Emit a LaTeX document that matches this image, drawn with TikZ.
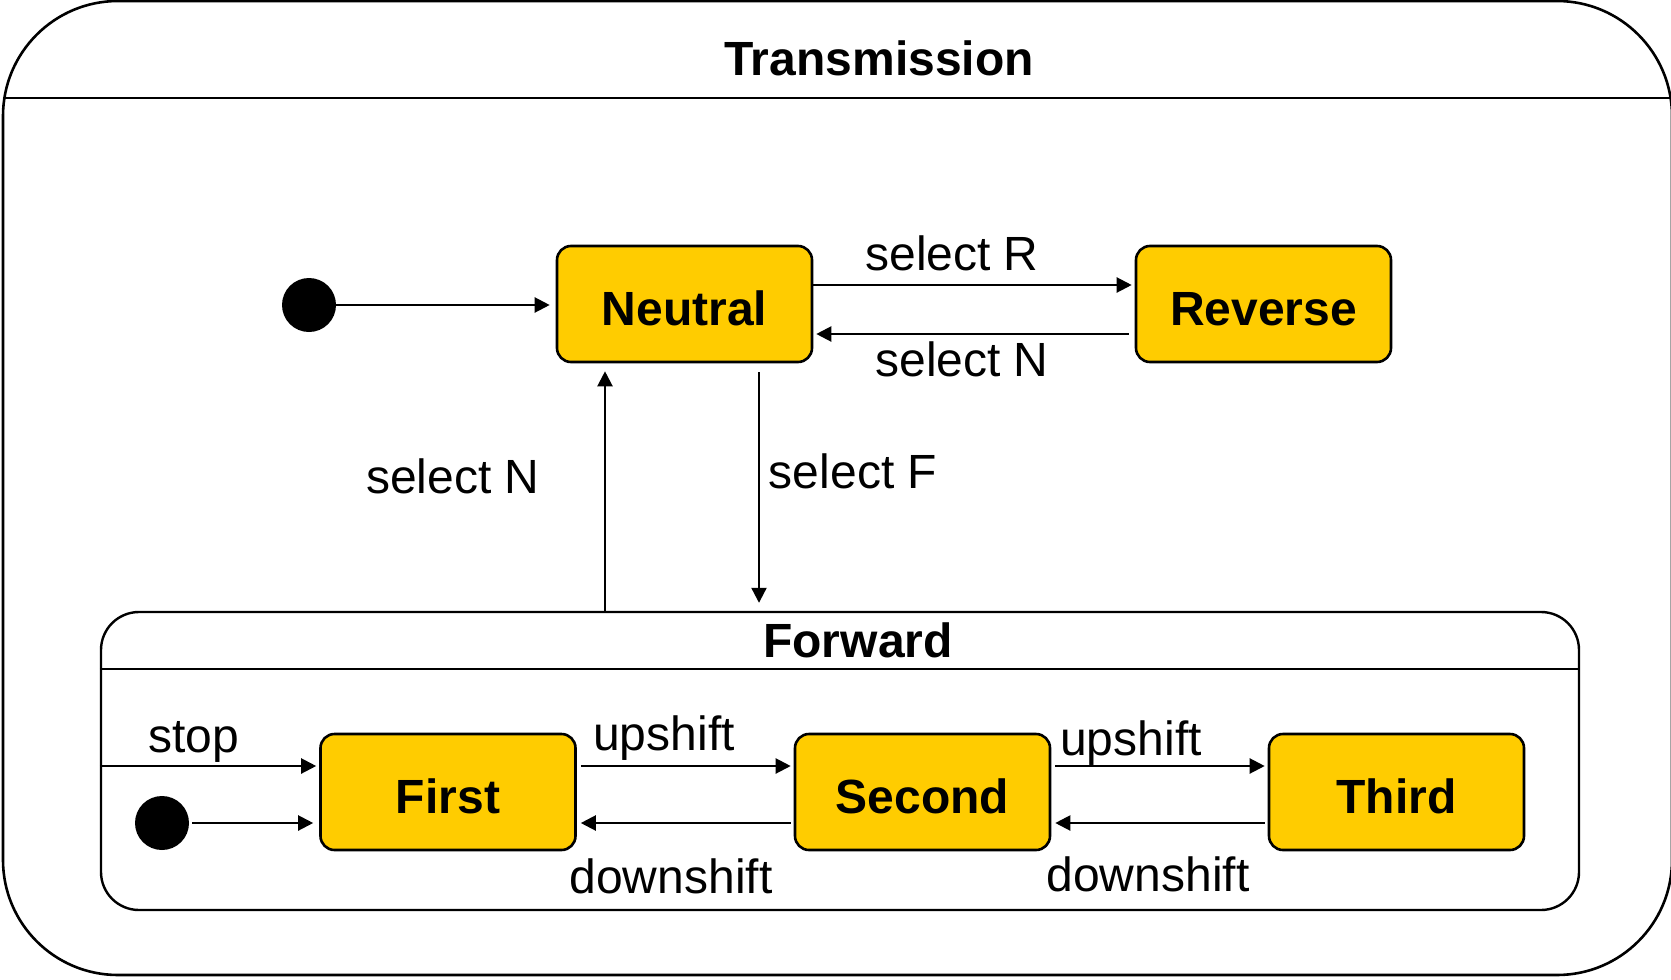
\documentclass[tikz,border=0pt]{standalone}
\usepackage{fontspec}
\setmainfont{Liberation Sans}
\usetikzlibrary{arrows.meta}
\definecolor{stateyellow}{RGB}{255,204,0}
\begin{document}
\begin{tikzpicture}[x=1pt,y=-1pt,
  frame/.style={line width=2.6pt},
  statebox/.style={draw, line width=2.6pt, fill=stateyellow, rounded corners=14pt,
    minimum width=255pt, minimum height=116pt, inner sep=0pt,
    text height=42pt, text depth=0pt,
    font=\fontsize{48}{57}\selectfont\bfseries},
  pseudo/.style={circle, fill=black, minimum size=54pt, inner sep=0pt},
  lbl/.style={anchor=base, inner sep=0pt, font=\fontsize{48}{57}\selectfont},
  title/.style={anchor=base, inner sep=0pt, font=\fontsize{48}{57}\selectfont\bfseries},
  arr/.style={-{Triangle[length=15pt,width=15pt]}, line width=2.2pt}]
\useasboundingbox (0,0) rectangle (1671,980);

% outer composite state
\draw[frame, rounded corners=115pt] (3,1) rectangle (1672,975);
\draw[frame] (3,98) -- (1672,98);
\node[title] (ttrans) at (879,75) {Transmission};

% top-level states
\node[pseudo] (init1) at (309,305) {};
\node[statebox] (Neutral) at (684.5,304) {Neutral};
\node[statebox] (Reverse) at (1263.5,304) {Reverse};

% nested Forward state
\node[draw, line width=2.4pt, rounded corners=38pt, minimum width=1478pt,
      minimum height=298pt, inner sep=0pt] (Forward) at (840,761) {};
\draw[line width=2.4pt] (Forward.west |- 0,669) -- (Forward.east |- 0,669);
\node[title] (tfwd) at (858,657.5) {Forward};

\node[pseudo] (init2) at (162,823) {};
\node[statebox] (First) at (448,792) {First};
\node[statebox] (Second) at (922.5,792) {Second};
\node[statebox] (Third) at (1396.5,792) {Third};

% transitions between top-level states
\draw[arr, shorten >=6pt] (init1) -- (init1 -| Neutral.west);
\draw[arr, shorten >=3pt] ([yshift=19pt]Neutral.east) -- ([yshift=19pt]Reverse.west);
\draw[arr, shorten <=6pt, shorten >=3pt] ([yshift=-30pt]Reverse.west) -- ([yshift=-30pt]Neutral.east);
\node[lbl] (lselR) at (952,270.5) {select R};
\node[lbl] (lselN1) at (962,376.5) {select N};

\coordinate (upx) at ([xshift=-79.5pt]Neutral.south);
\coordinate (dnx) at ([xshift=74.5pt]Neutral.south);
\draw[arr, shorten >=8pt] (upx |- Forward.north) -- (upx);
\draw[arr, shorten <=9pt, shorten >=8pt] (dnx) -- (dnx |- Forward.north);
\node[lbl] (lselN2) at (453,493.5) {select N};
\node[lbl] (lselF) at (853,488) {select F};

% transitions inside Forward
\coordinate (stopend) at ([yshift=26pt]First.west);
\draw[arr, shorten >=3pt] (Forward.west |- stopend) -- (stopend);
\node[lbl] (lstop) at (194,752.5) {stop};
\draw[arr, shorten <=3pt, shorten >=6pt] (init2) -- (init2 -| First.west);

\draw[arr, shorten <=4pt, shorten >=3pt] ([yshift=26pt]First.east) -- ([yshift=26pt]Second.west);
\draw[arr, shorten <=3pt, shorten >=4pt] ([yshift=-31pt]Second.west) -- ([yshift=-31pt]First.east);
\draw[arr, shorten <=4pt, shorten >=3pt] ([yshift=26pt]Second.east) -- ([yshift=26pt]Third.west);
\draw[arr, shorten <=3pt, shorten >=4pt] ([yshift=-31pt]Third.west) -- ([yshift=-31pt]Second.east);
\node[lbl] (lup1) at (664,750.5) {upshift};
\node[lbl] (lup2) at (1131,755) {upshift};
\node[lbl] (ldown1) at (671,893.5) {downshift};
\node[lbl] (ldown2) at (1148,891.5) {downshift};
\end{tikzpicture}
\end{document}
